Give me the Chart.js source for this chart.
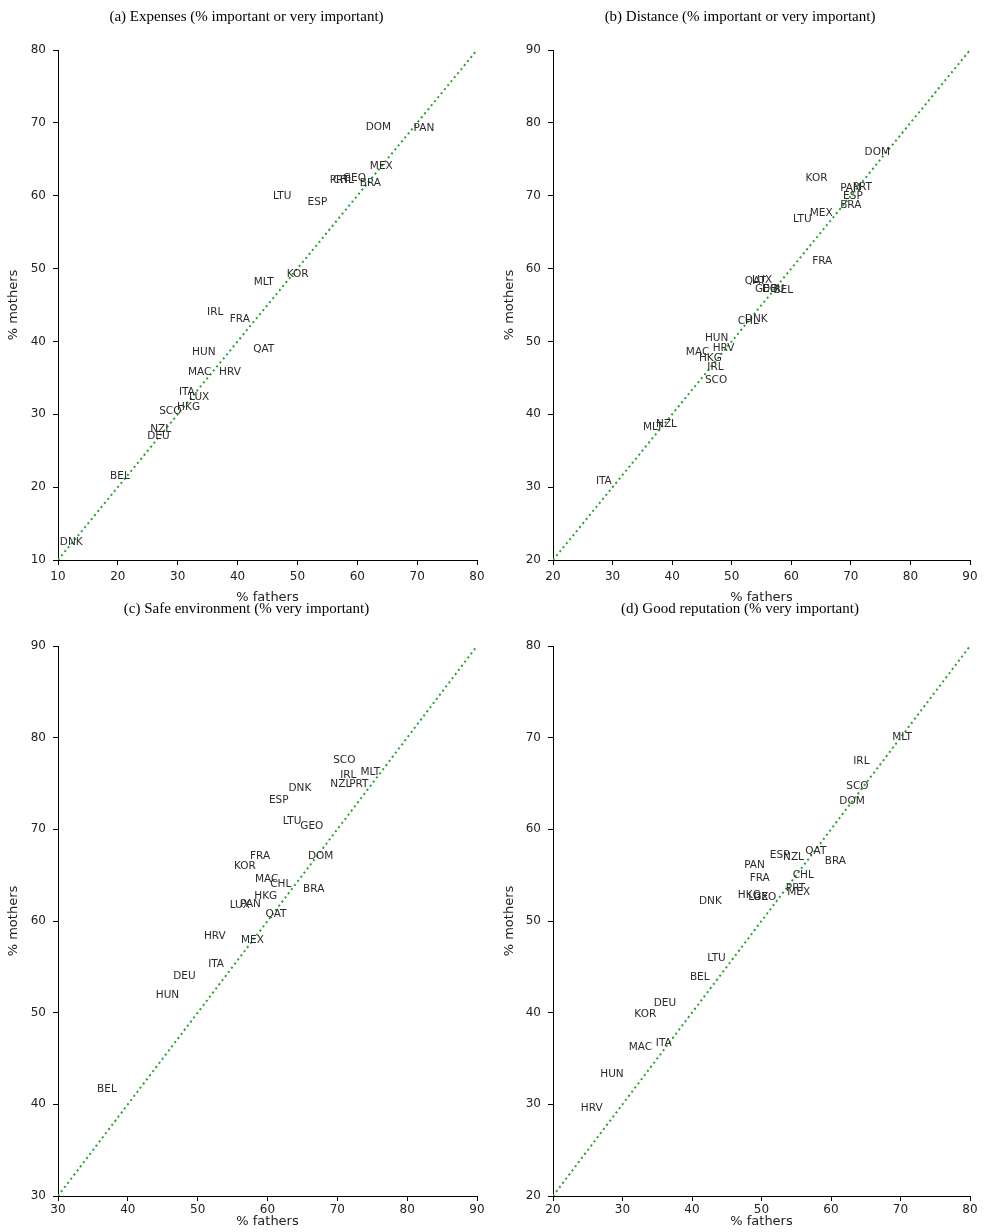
<!DOCTYPE html>
<html>
<head>
<meta charset="utf-8">
<script src="https://cdn.jsdelivr.net/npm/chart.js@4.4.0/dist/chart.umd.min.js"></script>
<style>
  html, body { margin: 0; padding: 0; background: #fff; }
  #wrap { position: relative; width: 987px; height: 1232px; overflow: hidden; }
  canvas { position: absolute; }
</style>
</head>
<body>
<div id="wrap">
  <canvas id="pa" width="493" height="616" style="left:0;top:0"></canvas>
  <canvas id="pb" width="494" height="616" style="left:493px;top:0"></canvas>
  <canvas id="pc" width="493" height="636" style="left:0;top:596px"></canvas>
  <canvas id="pd" width="494" height="636" style="left:493px;top:596px"></canvas>
</div>
<script>
// (a) Expenses
const expensesCodes   = ['DOM','PAN','MEX','PRT','CHL','GEO','BRA','LTU','ESP','MLT','KOR','IRL','FRA','QAT','HUN','MAC','HRV','ITA','LUX','HKG','SCO','NZL','DEU','BEL','DNK']
const expensesFathers = [61.4, 69.4, 62.1, 55.4, 55.9, 57.6, 60.4, 45.9, 51.7, 42.7, 48.2, 34.9, 38.7, 42.6, 32.4, 31.7, 36.9, 30.2, 31.9, 29.9, 26.9, 25.4, 24.9, 18.7, 10.3]
const expensesMothers = [69.0, 68.9, 63.7, 61.8, 61.8, 62.0, 61.3, 59.6, 58.7, 47.8, 48.9, 43.6, 42.7, 38.6, 38.2, 35.4, 35.4, 32.7, 32.0, 30.6, 30.1, 27.6, 26.6, 21.1, 12.0]

// (b) Distance
const distanceCodes   = ['DOM','KOR','PAN','PRT','ESP','BRA','MEX','LTU','FRA','QAT','LUX','GEO','DEU','BEL','CHL','DNK','HUN','HRV','MAC','HKG','IRL','SCO','MLT','NZL','ITA']
const distanceFathers = [72.3, 62.4, 68.2, 70.3, 68.7, 68.2, 63.1, 60.3, 63.5, 52.2, 53.4, 53.9, 55.1, 57.0, 51.0, 52.2, 45.5, 46.8, 42.3, 44.5, 45.9, 45.5, 35.1, 37.3, 27.2]
const distanceMothers = [75.6, 72.0, 70.7, 70.8, 69.6, 68.3, 67.2, 66.4, 60.6, 57.9, 58.0, 56.8, 56.8, 56.7, 52.4, 52.7, 50.1, 48.7, 48.2, 47.3, 46.1, 44.3, 37.9, 38.3, 30.5]

// (c) Safe environment
const safetyCodes   = ['SCO','IRL','MLT','NZL','PRT','DNK','ESP','LTU','GEO','FRA','DOM','KOR','MAC','CHL','HKG','BRA','LUX','PAN','QAT','HRV','MEX','ITA','DEU','HUN','BEL']
const safetyFathers = [69.4, 70.4, 73.3, 69.0, 71.7, 63.0, 60.2, 62.2, 64.7, 57.5, 65.8, 55.2, 58.2, 60.4, 58.1, 65.1, 54.6, 56.1, 59.7, 50.9, 56.2, 51.5, 46.5, 44.0, 35.6]
const safetyMothers = [77.2, 75.6, 75.9, 74.6, 74.6, 74.2, 72.9, 70.6, 70.0, 66.8, 66.8, 65.7, 64.3, 63.7, 62.4, 63.2, 61.4, 61.5, 60.4, 58.0, 57.6, 55.0, 53.7, 51.6, 41.3]

// (d) Good reputation
const reputationCodes   = ['MLT','IRL','SCO','DOM','QAT','ESP','NZL','BRA','PAN','FRA','CHL','PRT','MEX','HKG','LUX','GEO','DNK','LTU','BEL','DEU','KOR','ITA','MAC','HUN','HRV']
const reputationFathers = [68.8, 63.2, 62.2, 61.2, 56.3, 51.2, 53.1, 59.1, 47.5, 48.3, 54.5, 53.5, 53.7, 46.6, 48.1, 48.8, 41.0, 42.2, 39.7, 34.5, 31.7, 34.8, 30.9, 26.8, 24.0]
const reputationMothers = [69.7, 67.1, 64.4, 62.8, 57.3, 56.9, 56.7, 56.2, 55.8, 54.4, 54.7, 53.3, 52.8, 52.5, 52.3, 52.3, 51.9, 45.6, 43.6, 40.7, 39.5, 36.4, 35.9, 33.0, 29.3]

const TICK_FONT = { family: 'DejaVu Sans', size: 12 }
const INK = '#222'

// draws each country code at its (invisible) scatter point, like matplotlib's ax.text
const codeLabels = {
  id: 'codeLabels',
  afterDatasetsDraw(chart, args, opts) {
    const meta = chart.getDatasetMeta(1)
    const ctx = chart.ctx
    ctx.save()
    ctx.font = '10.5px "DejaVu Sans"'
    ctx.fillStyle = '#2a2a2a'
    ctx.textAlign = 'left'
    ctx.textBaseline = 'alphabetic'
    meta.data.forEach((pt, i) => ctx.fillText(opts.codes[i], pt.x, pt.y))
    ctx.restore()
  },
}

// panel title centred on the canvas (half of the figure), not on the plot area
const panelTitle = {
  id: 'panelTitle',
  afterDraw(chart, args, opts) {
    const ctx = chart.ctx
    ctx.save()
    ctx.font = '15px "Liberation Serif"'
    ctx.fillStyle = '#000'
    ctx.textAlign = 'center'
    ctx.textBaseline = 'middle'
    ctx.fillText(opts.text, chart.width / 2, opts.y)
    ctx.restore()
  },
}

function panel(id, title, codes, fathers, mothers, lo, hi, g) {
  const fixY = s => { s.width = g.axisW; s.paddingTop = s.paddingBottom = s.paddingLeft = s.paddingRight = 0 }
  const fixX = s => { s.height = g.axisH; s.paddingTop = s.paddingBottom = s.paddingLeft = s.paddingRight = 0 }
  const axis = {
    type: 'linear', min: lo, max: hi,
    grid: { display: true, drawOnChartArea: false, drawTicks: true, tickLength: 5, color: '#000' },
    border: { display: true, color: '#000', width: 1 },
  }
  return new Chart(document.getElementById(id), {
    type: 'scatter',
    data: {
      datasets: [
        {
          type: 'line',
          data: [{ x: lo, y: lo }, { x: hi, y: hi }],
          borderColor: '#2ca02c',
          borderWidth: 2,
          borderDash: [2, 3.2],
          pointRadius: 0,
          fill: false,
        },
        {
          data: fathers.map((f, i) => ({ x: f, y: mothers[i] })),
          pointRadius: 0,
          pointHoverRadius: 0,
        },
      ],
    },
    options: {
      responsive: false,
      animation: false,
      events: [],
      layout: { padding: { top: g.top, right: g.right, left: 0, bottom: 0 } },
      scales: {
        x: {
          ...axis,
          ticks: { stepSize: 10, padding: g.xTickPad, color: INK, font: TICK_FONT, maxRotation: 0 },
          title: { display: true, text: '% fathers', color: INK, font: { family: 'DejaVu Sans', size: 13 }, padding: { top: 0, bottom: g.xTitlePad } },
          afterFit: fixX,
        },
        y: {
          ...axis,
          ticks: { stepSize: 10, padding: 7, color: INK, font: TICK_FONT },
          title: { display: true, text: '% mothers', color: INK, font: { family: 'DejaVu Sans', size: 13 }, padding: { top: g.yTitlePad, bottom: 0 } },
          afterFit: fixY,
        },
      },
      plugins: {
        legend: { display: false },
        tooltip: { enabled: false },
        codeLabels: { codes },
        panelTitle: { text: title, y: g.titleY },
      },
    },
    plugins: [codeLabels, panelTitle],
  })
}

panel('pa', '(a) Expenses (% important or very important)', expensesCodes, expensesFathers, expensesMothers, 10, 80,
  { axisW: 58, axisH: 56, top: 50, right: 16, xTickPad: 5, xTitlePad: 11, yTitlePad: 6, titleY: 17 })
panel('pb', '(b) Distance (% important or very important)', distanceCodes, distanceFathers, distanceMothers, 20, 90,
  { axisW: 60, axisH: 56, top: 50, right: 17, xTickPad: 5, xTitlePad: 11, yTitlePad: 9, titleY: 17 })
panel('pc', '(c) Safe environment (% very important)', safetyCodes, safetyFathers, safetyMothers, 30, 90,
  { axisW: 58, axisH: 36, top: 50, right: 16, xTickPad: 2, xTitlePad: 3, yTitlePad: 6, titleY: 13 })
panel('pd', '(d) Good reputation (% very important)', reputationCodes, reputationFathers, reputationMothers, 20, 80,
  { axisW: 60, axisH: 36, top: 50, right: 17, xTickPad: 2, xTitlePad: 3, yTitlePad: 9, titleY: 13 })
</script>
</body>
</html>
